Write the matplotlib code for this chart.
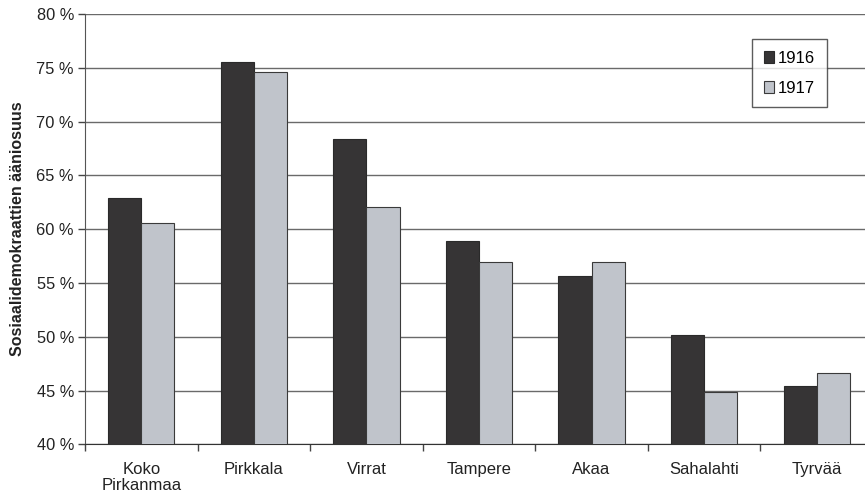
import matplotlib.pyplot as plt
import numpy as np

plt.rcParams['font.family'] = ['Liberation Sans', 'DejaVu Sans']

# Data
categories = ['Koko\nPirkanmaa', 'Pirkkala', 'Virrat', 'Tampere', 'Akaa', 'Sahalahti', 'Tyrvää']
share_1916 = [62.9, 75.5, 68.4, 58.9, 55.6, 50.2, 45.4]
share_1917 = [60.6, 74.6, 62.1, 56.9, 56.9, 44.9, 46.6]
series_labels = ['1916', '1917']
y_ticks = [40, 45, 50, 55, 60, 65, 70, 75, 80]

W, H = 865, 499
fig = plt.figure(figsize=(W / 100, H / 100), dpi=100)
# plot area runs slightly past the right edge of the picture, as in the reference
left, right, top, bottom = 85, 873, 14, 444.3
ax = fig.add_axes([left / W, 1 - bottom / H, (right - left) / W, (bottom - top) / H])

x = np.arange(len(categories))
bw = 0.295
ax.bar(x - bw / 2, share_1916, bw, color='#363435', edgecolor='#2a2a2a',
       linewidth=0.8, label=series_labels[0], zorder=3)
ax.bar(x + bw / 2, share_1917, bw, color='#c0c4cb', edgecolor='#3a3a3a',
       linewidth=0.8, label=series_labels[1], zorder=3)

ax.set_xlim(-0.5, len(categories) - 0.5)
ax.set_ylim(40, 80)
ax.set_yticks(y_ticks)
ax.set_yticklabels(['{} %'.format(v) for v in y_ticks], fontsize=11.8, color='#222222')
ax.yaxis.grid(True, color='#6a6a6a', linewidth=1.0, zorder=0)

# category labels centred, tick marks on category boundaries
ax.set_xticks(x)
ax.set_xticklabels(categories, fontsize=12, color='#222222', linespacing=1.05)
ax.tick_params(axis='x', which='major', length=0, pad=13)
ax.set_xticks(np.arange(len(categories) + 1) - 0.5, minor=True)
ax.tick_params(axis='x', which='minor', length=5, color='#444444', width=1)
ax.tick_params(axis='y', length=5, color='#444444', width=1, pad=3)

for side in ['top', 'right']:
    ax.spines[side].set_visible(False)
ax.spines['left'].set_color('#555555')
ax.spines['bottom'].set_color('#333333')

ax.set_ylabel('Sosiaalidemokraattien ääniosuus', fontsize=11.5, fontweight='bold',
              color='#222222', labelpad=8)

leg = ax.legend(loc='upper left', bbox_to_anchor=((752 - left) / (right - left), 1 - (39 - top) / (bottom - top)),
                fontsize=12, frameon=True, fancybox=False, handlelength=0.6,
                handleheight=0.7, handletextpad=0.25, borderpad=0.7, labelspacing=0.9,
                borderaxespad=0)
leg.get_frame().set_edgecolor('#333333')
leg.get_frame().set_linewidth(1.0)

fig.savefig('out.png', dpi=100)
